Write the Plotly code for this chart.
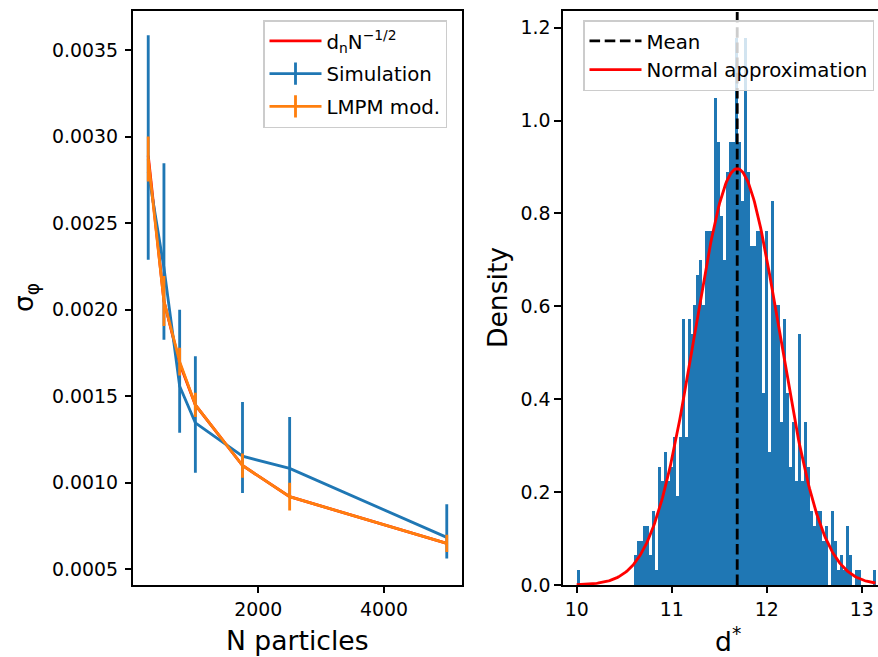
import numpy as np
import plotly.graph_objects as go

# ---------------- data: left panel ----------------
n_particles = [250, 500, 750, 1000, 1750, 2500, 5000]
fit_sigma = [0.00289, 0.00205, 0.00169, 0.00145, 0.00110, 0.00092, 0.00065]
sim_sigma = [0.002796, 0.002242, 0.001558, 0.001346, 0.001154, 0.001083, 0.000685]
sim_err_plus = [0.000789, 0.000604, 0.000442, 0.000385, 0.000313, 0.000297, 0.000192]
sim_err_minus = [0.000508, 0.000415, 0.000269, 0.000288, 0.000212, 0.000153, 0.000122]
lmpm_sigma = [0.00287, 0.00205, 0.00170, 0.00145, 0.00110, 0.00092, 0.00065]
lmpm_err = [0.00013, 0.000144, 0.00008, 0.00007, 0.00007, 0.00008, 0.00005]

# ---------------- data: right panel ----------------
hist_min = 10.0
hist_max = 13.145
hist_density = [
    0.032, 0, 0, 0, 0, 0, 0, 0, 0, 0, 0, 0, 0, 0, 0, 0, 0, 0, 0,
    0.064, 0.095, 0.095, 0.127, 0.127, 0.064, 0.159, 0.032,
    0.254, 0.223, 0.286, 0.223, 0.254, 0.318, 0.191, 0.318,
    0.572, 0.318, 0.572, 0.541, 0.604,
    0.668, 0.700, 0.604, 0.763, 0.763, 0.763,
    1.049, 0.954, 0.795, 0.700, 0.890, 0.954, 0.954,
    1.177, 0.954, 0.827, 1.177, 0.890, 0.731, 0.731,
    0.763, 0.763, 0.413, 0.763, 0.286, 0.827, 0.604,
    0.604, 0.350, 0.572, 0.413, 0.254, 0.350, 0.223,
    0.541, 0.223, 0.350, 0.254, 0.159, 0.127, 0.159,
    0.159, 0.095, 0.127, 0, 0.159, 0.095, 0.032, 0.064, 0.032,
    0.127, 0.064, 0, 0.032, 0.032, 0, 0, 0, 0, 0.032,
]
d_mean = 11.69
d_std = 0.445

BLUE = "#1f77b4"
ORANGE = "#ff7f0e"
RED = "#ff0000"
LW = 2.85
FONT = "DejaVu Sans"

W, H = 878, 657

fig = go.Figure()

# ---- left panel ----
fig.add_trace(go.Scatter(x=n_particles, y=fit_sigma, mode="lines",
                         line=dict(color=RED, width=LW), showlegend=False,
                         xaxis="x", yaxis="y"))
fig.add_trace(go.Scatter(x=n_particles, y=sim_sigma, mode="lines",
                         line=dict(color=BLUE, width=LW), showlegend=False,
                         error_y=dict(type="data", symmetric=False, array=sim_err_plus,
                                      arrayminus=sim_err_minus, color=BLUE,
                                      thickness=LW, width=0),
                         xaxis="x", yaxis="y"))
fig.add_trace(go.Scatter(x=n_particles, y=lmpm_sigma, mode="lines",
                         line=dict(color=ORANGE, width=LW), showlegend=False,
                         error_y=dict(type="data", array=lmpm_err, color=ORANGE,
                                      thickness=LW, width=0),
                         xaxis="x", yaxis="y"))

# legend entries (left)
fig.add_trace(go.Scatter(x=[None], y=[None], mode="lines", line=dict(color=RED, width=LW),
                         name="d<sub>n</sub>N<sup>\u22121/2</sup>", legend="legend",
                         legendgroup="g1", xaxis="x", yaxis="y"))
for i, (nm, c) in enumerate([("Simulation", BLUE), ("LMPM mod.", ORANGE)]):
    fig.add_trace(go.Scatter(x=[None], y=[None], mode="lines+markers",
                             line=dict(color=c, width=LW),
                             marker=dict(symbol="line-ns", size=18, color=c,
                                         line=dict(width=LW, color=c)),
                             name=nm, legend="legend", legendgroup="g%d" % (i + 2),
                             xaxis="x", yaxis="y"))

# ---- right panel ----
nb = len(hist_density)
bw = (hist_max - hist_min) / nb
centers = [hist_min + (i + 0.5) * bw for i in range(nb)]
fig.add_trace(go.Bar(x=centers, y=hist_density, width=[bw] * nb,
                     marker=dict(color=BLUE, line=dict(width=0)),
                     showlegend=False, xaxis="x2", yaxis="y2"))

fig.add_trace(go.Scatter(x=[d_mean, d_mean], y=[0, 1.236], mode="lines",
                         line=dict(color="black", width=LW, dash="10.6px,4.6px"),
                         name="Mean", legend="legend2", xaxis="x2", yaxis="y2"))
xs = np.linspace(hist_min, hist_max, 300)
pdf = np.exp(-0.5 * ((xs - d_mean) / d_std) ** 2) / (d_std * np.sqrt(2 * np.pi))
fig.add_trace(go.Scatter(x=xs, y=pdf, mode="lines", line=dict(color=RED, width=LW),
                         name="Normal approximation", legend="legend2",
                         xaxis="x2", yaxis="y2"))

axis_common = dict(showline=True, linecolor="black", linewidth=1.5, ticks="outside",
                   ticklen=6.7, tickwidth=1.5, tickcolor="black", showgrid=False,
                   zeroline=False, tickfont=dict(family=FONT, size=18.9, color="black"),
                   automargin=False)

left_x0, left_x1 = 133.3 / W, 461.7 / W
right_x0 = 562.7 / W
y_bot, y_top = 1 - 585 / H, 1 - 11 / H

legend_common = dict(bgcolor="rgba(255,255,255,0.8)", bordercolor="#cccccc", borderwidth=1.5,
                     font=dict(family=FONT, size=19.8, color="black"), itemwidth=52,
                     yanchor="top", xanchor="left")

fig.update_layout(
    width=W, height=H, margin=dict(l=0, r=0, t=0, b=0),
    paper_bgcolor="white", plot_bgcolor="white",
    font=dict(family=FONT, color="black"),
    bargap=0,
    xaxis=dict(domain=[left_x0, left_x1], range=[12.5, 5237.5], tick0=0, dtick=2000,
               mirror=True, anchor="y", **axis_common),
    yaxis=dict(domain=[y_bot, y_top], range=[0.00041, 0.003725], tick0=0, dtick=0.0005,
               tickformat=".4f", mirror=True, anchor="x", ticklabelstandoff=3, **axis_common),
    xaxis2=dict(domain=[right_x0, 1.0], range=[9.853, 13.172], tick0=0, dtick=1,
                mirror=True, anchor="y2", **axis_common),
    yaxis2=dict(domain=[y_bot, y_top], range=[0, 1.236], tick0=0, dtick=0.2,
                tickformat=".1f", mirror=False, anchor="x2", **axis_common),
    legend=dict(x=263 / W, y=1 - 20 / H, tracegroupgap=4, traceorder="grouped",
                **legend_common),
    legend2=dict(x=583 / W, y=1 - 20 / H, **legend_common),
    annotations=[
        dict(text="\u03c3<sub>\u03c6</sub>", x=25 / W, y=1 - 298 / H, xref="paper", yref="paper",
             xanchor="center", yanchor="middle",
             textangle=-90, showarrow=False, font=dict(family=FONT, size=26.6)),
        dict(text="N particles", x=297 / W, y=1 - 640 / H, xref="paper", yref="paper",
             xanchor="center", yanchor="middle",
             showarrow=False, font=dict(family=FONT, size=26.6)),
        dict(text="Density", x=497 / W, y=1 - 298 / H, xref="paper", yref="paper",
             xanchor="center", yanchor="middle",
             textangle=-90, showarrow=False, font=dict(family=FONT, size=26.6)),
        dict(text="d<sup>*</sup>", x=728 / W, y=1 - 640 / H, xref="paper", yref="paper",
             xanchor="center", yanchor="middle",
             showarrow=False, font=dict(family=FONT, size=26.6)),
    ],
)

fig.write_html("out.html")
